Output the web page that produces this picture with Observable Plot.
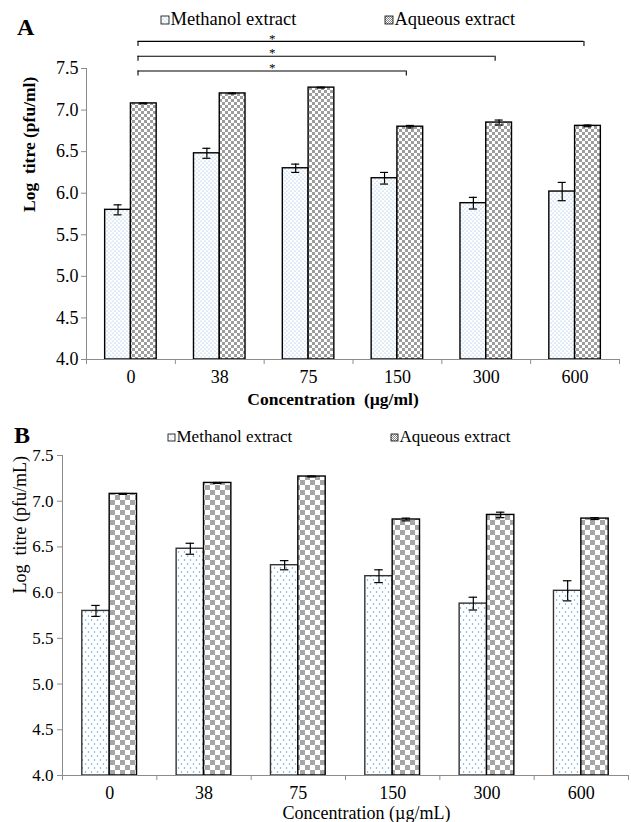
<!DOCTYPE html>
<html><head><meta charset="utf-8">
<script src="https://cdn.jsdelivr.net/npm/d3@7"></script>
<script src="https://cdn.jsdelivr.net/npm/@observablehq/plot@0.6"></script>
<style>
body{margin:0;background:#fff;font-family:"Liberation Serif","Times New Roman",serif;}
#wrap{position:relative;width:631px;height:822px;overflow:hidden;background:#fff;}
#wrap > svg, #wrap > div{position:absolute;left:0;}
#wrap svg, #wrap svg text, #wrap svg g{font-family:"Liberation Serif","Times New Roman",serif !important;font-variant:normal !important;}
</style></head><body>
<svg width="0" height="0" style="position:absolute">
<defs>
<pattern id="dotsA" patternUnits="userSpaceOnUse" width="4" height="4">
<rect width="4" height="4" fill="#fff"/><circle cx="1" cy="1" r="0.6" fill="#7fb0de"/><circle cx="3" cy="3" r="0.6" fill="#7fb0de"/>
</pattern>
<pattern id="dotsB" patternUnits="userSpaceOnUse" width="6" height="8">
<rect width="6" height="8" fill="#fff"/><circle cx="1.5" cy="2" r="0.75" fill="#5b9bd5"/><circle cx="4.5" cy="6" r="0.75" fill="#5b9bd5"/>
</pattern>
<pattern id="checkA" patternUnits="userSpaceOnUse" width="6" height="6">
<rect width="6" height="6" fill="#fff"/><rect width="3" height="3" fill="#9d9d9d"/><rect x="3" y="3" width="3" height="3" fill="#9d9d9d"/>
</pattern>
<pattern id="checkB" patternUnits="userSpaceOnUse" width="10" height="10">
<rect width="10" height="10" fill="#fff"/><rect width="5" height="5" fill="#a6a6a6"/><rect x="5" y="5" width="5" height="5" fill="#a6a6a6"/>
</pattern>
<pattern id="checkS" patternUnits="userSpaceOnUse" width="2" height="2">
<rect width="2" height="2" fill="#fff"/><rect width="1" height="1" fill="#888"/><rect x="1" y="1" width="1" height="1" fill="#888"/>
</pattern>
</defs>
</svg>
<div id="wrap"></div>
<script>
// ---- data ----
const concentrations = ["0", "38", "75", "150", "300", "600"];
const methanol    = [5.80, 6.48, 6.30, 6.18, 5.88, 6.02];
const methanolErr = [0.06, 0.06, 0.05, 0.07, 0.07, 0.11];
const aqueous     = [7.08, 7.20, 7.27, 6.80, 6.85, 6.81];
const aqueousErr  = [0.005, 0.005, 0.005, 0.015, 0.03, 0.01];
const yTicks = [4.0, 4.5, 5.0, 5.5, 6.0, 6.5, 7.0, 7.5];
const seriesNames = ["Methanol extract", "Aqueous extract"];
const brackets = [
  {from: "0", to: "150", label: "*"},
  {from: "0", to: "300", label: "*"},
  {from: "0", to: "600", label: "*"}
];

const FONT = '"Liberation Serif", "Times New Roman", serif';
const wrap = document.getElementById("wrap");

function panel(o) {
  const w = 0.29, cap = 0.045;
  const rows = concentrations.map((c, i) => ({c, i}));
  const meth = rows.map(r => ({...r, v: methanol[r.i], e: methanolErr[r.i], x1: r.i - w, x2: r.i}));
  const aq = rows.map(r => ({...r, v: aqueous[r.i], e: aqueousErr[r.i], x1: r.i, x2: r.i + w}));
  const all = [...meth, ...aq];
  const caps = all.flatMap(d => [{...d, y: d.v - d.e}, {...d, y: d.v + d.e}]);
  const mid = d => (d.x1 + d.x2) / 2;
  const marks = [
    Plot.rectY(meth, {x1: "x1", x2: "x2", y1: 4, y2: "v", fill: `url(#${o.dots})`, stroke: o.methStroke, strokeWidth: 1.4}),
    Plot.rectY(aq, {x1: "x1", x2: "x2", y1: 4, y2: "v", fill: `url(#${o.check})`, stroke: "#000", strokeWidth: 1.4}),
    Plot.ruleX(all, {x: mid, y1: d => d.v - d.e, y2: d => d.v + d.e, stroke: "#000", strokeWidth: 1.2}),
    Plot.ruleY(caps, {x1: d => mid(d) - cap, x2: d => mid(d) + cap, y: "y", stroke: "#000", strokeWidth: 1.2}),
    Plot.ruleX([-0.5], {y1: 4, y2: 7.5, stroke: "#8c8c8c"}),
    Plot.ruleY([4], {x1: -0.5, x2: concentrations.length - 0.5, stroke: "#8c8c8c"}),
    Plot.axisY({ticks: yTicks, tickFormat: d => d.toFixed(1), tickSize: 5, tickPadding: o.yPad,
      stroke: "#8c8c8c", fill: "#000", fontSize: o.yFont, label: null}),
    Plot.axisX({ticks: d3.range(concentrations.length), tickFormat: i => concentrations[i], tickSize: 0,
      tickPadding: o.xPad, fill: "#000", fontSize: o.xFont, label: null}),
    Plot.axisX({ticks: d3.range(concentrations.length + 1).map(i => i - 0.5), tickFormat: () => "",
      tickSize: 5, stroke: "#8c8c8c", label: null}),
    Plot.text([o.yLabel], {frameAnchor: "left", rotate: -90, dx: o.yLabelDx, dy: o.yLabelDy,
      fontSize: o.labelFont, fontWeight: o.bold ? "bold" : "normal", fill: "#000"}),
    Plot.text([o.xLabel], {frameAnchor: "bottom", dx: o.xLabelDx, dy: o.xLabelDy, lineAnchor: "middle",
      fontSize: o.labelFont, fontWeight: o.bold ? "bold" : "normal", fill: "#000"})
  ];
  if (o.brackets) {
    const idx = c => concentrations.indexOf(c);
    const bs = o.brackets.map((b, k) => ({...b, y: 7.47 + k * 0.178, xa: idx(b.from) + 0.08, xb: idx(b.to) + 0.1}));
    const starX = (bs[0].xa + bs[0].xb) / 2;
    marks.push(
      Plot.ruleY(bs, {x1: "xa", x2: "xb", y: "y", stroke: "#000", strokeWidth: 1.1}),
      Plot.ruleX(bs, {x: "xa", y1: "y", y2: d => d.y - 0.06, stroke: "#000", strokeWidth: 1.1}),
      Plot.ruleX(bs, {x: "xb", y1: "y", y2: d => d.y - 0.06, stroke: "#000", strokeWidth: 1.1}),
      Plot.text(bs, {x: starX, y: "y", text: "label", dy: -3, fontSize: 13, fill: "#000"})
    );
  }
  return Plot.plot({
    width: 631, height: o.height,
    marginLeft: o.ml, marginRight: o.mr, marginTop: o.mt, marginBottom: o.mb,
    x: {type: "linear", domain: [-0.5, concentrations.length - 0.5], axis: null},
    y: {domain: [4, 7.5], axis: null},
    style: {fontFamily: FONT, fontSize: "17px", background: "transparent", overflow: "visible", color: "#000"},
    marks
  });
}

const A = panel({
  height: 410, ml: 86, mr: 12, mt: 68, mb: 51,
  dots: "dotsA", check: "checkA", methStroke: "#000",
  yPad: 3, xPad: 11, yFont: 18, xFont: 18, labelFont: 17.5, bold: true,
  yLabel: "Log\u00a0 titre (pfu/ml)", yLabelDx: -57, yLabelDy: -2,
  xLabel: "Concentration\u00a0 (\u00b5g/ml)", xLabelDx: -20, xLabelDy: 40,
  brackets
});
A.style.top = "0px";
wrap.appendChild(A);

const B = panel({
  height: 412, ml: 62, mr: 3, mt: 45, mb: 47,
  dots: "dotsB", check: "checkB", methStroke: "#333",
  yPad: 4, xPad: 11, yFont: 17, xFont: 18, labelFont: 18, bold: false,
  yLabel: "Log\u00a0 titre (pfu/mL)", yLabelDx: -42, yLabelDy: -22,
  xLabel: "Concentration (\u00b5g/mL)", xLabelDx: 21, xLabelDy: 38
});
B.style.top = "410px";
wrap.appendChild(B);

// titles and legends
const ov = d3.select(wrap).append("svg").attr("width", 631).attr("height", 822)
  .style("top", "0px").style("font-family", FONT);
ov.append("text").attr("x", 17).attr("y", 35).attr("font-size", 24).attr("font-weight", "bold").text("A");
ov.append("text").attr("x", 14).attr("y", 443).attr("font-size", 24).attr("font-weight", "bold").text("B");

const legends = [
  {x: [161, 385], y: 25, size: 8, font: 18.5, fills: ["dotsA", "checkS"]},
  {x: [168, 391], y: 442, size: 7, font: 17, fills: ["dotsA", "checkS"]}
];
legends.forEach(L => {
  seriesNames.forEach((name, k) => {
    ov.append("rect").attr("x", L.x[k]).attr("y", L.y - L.size - 1).attr("width", L.size).attr("height", L.size)
      .attr("fill", `url(#${L.fills[k]})`).attr("stroke", "#000").attr("stroke-width", 0.8);
    ov.append("text").attr("x", L.x[k] + L.size + 1.5).attr("y", L.y).attr("font-size", L.font).text(name);
  });
});
</script>
</body></html>
